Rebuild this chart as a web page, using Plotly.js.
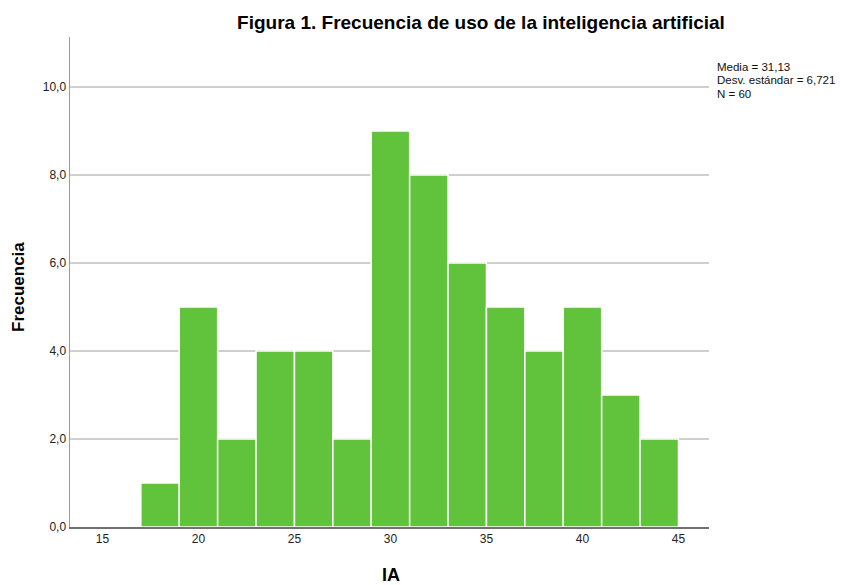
<!DOCTYPE html>
<html>
<head>
<meta charset="utf-8">
<script src="https://cdn.plot.ly/plotly-3.0.1.min.js"></script>
<style>html,body{margin:0;padding:0;background:#fff;}#chart{width:843px;height:585px;}</style>
</head>
<body>
<div id="chart"></div>
<script>
// Histogram of IA scores (bins of width 2)
const binLeft = [17, 19, 21, 23, 25, 27, 29, 31, 33, 35, 37, 39, 41, 43];
const binWidth = 2;
const counts = [1, 5, 2, 4, 4, 2, 9, 8, 6, 5, 4, 5, 3, 2];
const xTickVals = [15, 20, 25, 30, 35, 40, 45];
const yTickVals = [0, 2, 4, 6, 8, 10];
const yTickText = ["0,0", "2,0", "4,0", "6,0", "8,0", "10,0"];
const statsLines = ["Media = 31,13", "Desv. estándar = 6,721", "N = 60"];
const chartTitle = "Figura 1. Frecuencia de uso de la inteligencia artificial";
const xTitle = "IA";
const yTitle = "Frecuencia";

const font = "'Liberation Sans', Arial, sans-serif";
const W = 843, H = 585;

const trace = {
  type: 'bar',
  x: binLeft.map(l => l + binWidth / 2),
  y: counts,
  width: binLeft.map(() => binWidth),
  marker: { color: 'rgb(97,194,59)', line: { color: '#ffffff', width: 1.5 } },
  hoverinfo: 'x+y'
};

// stats lines placed one per annotation (tight SPSS-like spacing)
const statAnn = statsLines.map((t, i) => ({
  xref: 'paper', yref: 'paper',
  x: 1.0, xshift: 7,
  y: 1 - (67 + i * 13.5 - 37) / 490, yanchor: 'middle', xanchor: 'left',
  text: t, showarrow: false, align: 'left', borderpad: 0,
  font: { family: font, size: 11.5, color: '#111' }
}));

const layout = {
  width: W, height: H,
  margin: { l: 70, r: 134, t: 37, b: 58 },
  paper_bgcolor: '#fff', plot_bgcolor: '#fff',
  showlegend: false,
  bargap: 0,
  title: {
    text: '<b>' + chartTitle + '</b>',
    font: { family: font, size: 19, color: '#000' },
    xref: 'container', yref: 'container',
    x: 481 / W, xanchor: 'center', y: 1 - 22 / H, yanchor: 'middle'
  },
  xaxis: {
    range: [13.31, 46.59],
    tickvals: xTickVals,
    ticktext: xTickVals.map(String),
    showgrid: false, zeroline: false,
    showline: true, linecolor: '#707070', linewidth: 1.5,
    ticks: '', tickfont: { family: font, size: 12, color: '#222' },
    fixedrange: true
  },
  yaxis: {
    range: [0, 11.136],
    tickvals: yTickVals,
    ticktext: yTickText,
    showgrid: true, gridcolor: '#cfcfcf', gridwidth: 1.5,
    zeroline: false,
    showline: true, linecolor: '#9a9a9a', linewidth: 1.5,
    ticks: '', tickfont: { family: font, size: 12, color: '#222' },
    fixedrange: true
  },
  annotations: statAnn.concat([
    {
      xref: 'paper', yref: 'paper', x: (391 - 70) / 639, y: -(575 - 527) / 490,
      xanchor: 'center', yanchor: 'middle', showarrow: false,
      text: '<b>' + xTitle + '</b>', font: { family: font, size: 18, color: '#000' }
    },
    {
      xref: 'paper', yref: 'paper', x: -(70 - 18) / 639, y: 1 - (287 - 37) / 490,
      xanchor: 'center', yanchor: 'middle', showarrow: false, textangle: -90,
      text: '<b>' + yTitle + '</b>', font: { family: font, size: 17, color: '#000' }
    }
  ])
};

Plotly.newPlot('chart', [trace], layout, { displayModeBar: false, staticPlot: true });
</script>
</body>
</html>
